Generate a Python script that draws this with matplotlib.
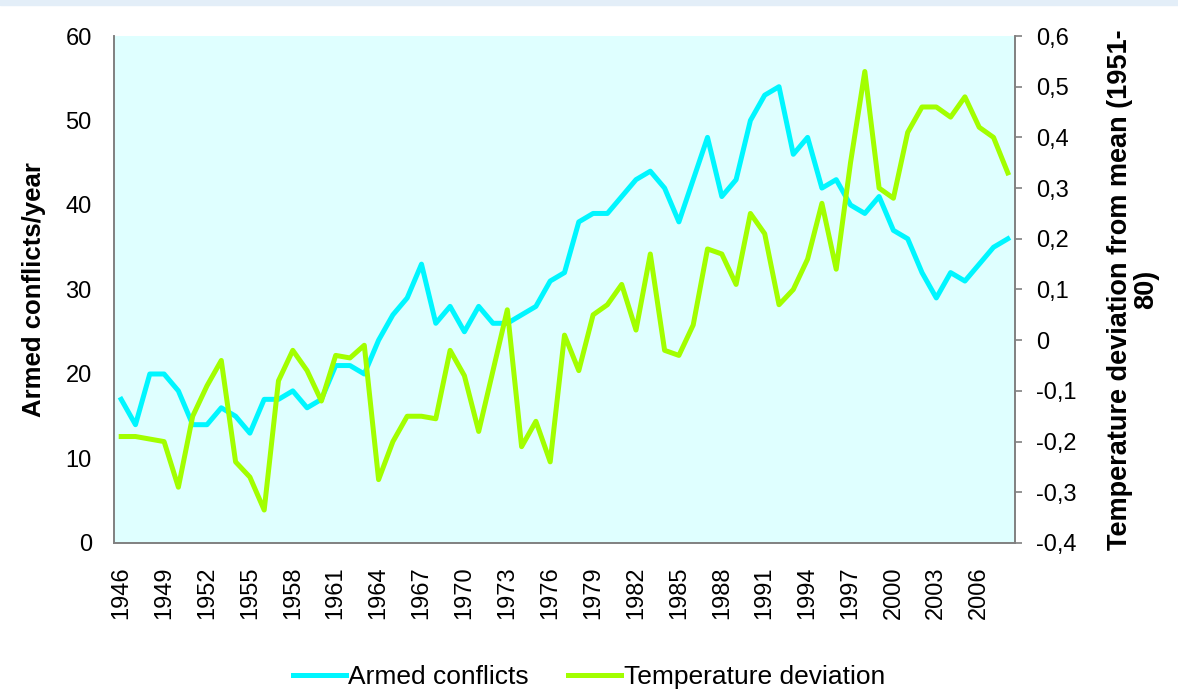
import matplotlib.pyplot as plt
from matplotlib.patches import Rectangle
from matplotlib.ticker import FuncFormatter

plt.rcParams["font.family"] = ["Liberation Sans", "DejaVu Sans"]

years = list(range(1946, 2009))
conflicts = [17, 14, 20, 20, 18, 14, 14, 16, 15, 13,
             17, 17, 18, 16, 17, 21, 21, 20, 24, 27,
             29, 33, 26, 28, 25, 28, 26, 26, 27, 28,
             31, 32, 38, 39, 39, 41, 43, 44, 42, 38,
             43, 48, 41, 43, 50, 53, 54, 46, 48, 42,
             43, 40, 39, 41, 37, 36, 32, 29, 32, 31,
             33, 35, 36]
temp_dev = [-0.19, -0.19, -0.195, -0.20, -0.29, -0.15, -0.09, -0.04, -0.24, -0.27,
            -0.335, -0.08, -0.02, -0.06, -0.12, -0.03, -0.035, -0.01, -0.275, -0.20,
            -0.15, -0.15, -0.155, -0.02, -0.07, -0.18, -0.06, 0.06, -0.21, -0.16,
            -0.24, 0.01, -0.06, 0.05, 0.07, 0.11, 0.02, 0.17, -0.02, -0.03,
            0.03, 0.18, 0.17, 0.11, 0.25, 0.21, 0.07, 0.10, 0.16, 0.27,
            0.14, 0.35, 0.53, 0.30, 0.28, 0.41, 0.46, 0.46, 0.44, 0.48,
            0.42, 0.40, 0.33]

fig = plt.figure(figsize=(11.78, 6.91), dpi=100)
fig.patches.append(Rectangle((0, 0.993), 1, 0.007, transform=fig.transFigure,
                             color="#e3eef8", zorder=0))
ax = fig.add_axes([0.0968, 0.2142, 0.7648, 0.7337])
ax.set_facecolor("#dfffff")

x = list(range(len(years)))
l1, = ax.plot(x, conflicts, color="#00f6ff", lw=3.6, solid_joinstyle="round",
              label="Armed conflicts")
ax.set_xlim(-0.5, len(years) - 0.5)
ax.set_ylim(0, 60)
ax.set_yticks(range(0, 61, 10))
ax.set_xticks(x[::3])
ax.set_xticklabels([str(y) for y in years[::3]], rotation=90)
ax.set_ylabel("Armed conflicts/year", fontsize=18.5, fontweight="bold", labelpad=14)
ax.tick_params(axis="both", labelsize=17, length=0)
ax.tick_params(axis="y", pad=16)
ax.tick_params(axis="x", pad=17)

ax2 = ax.twinx()
l2, = ax2.plot(x, temp_dev, color="#a2ff00", lw=3.6, solid_joinstyle="round",
               label="Temperature deviation")
ax2.set_ylim(-0.4, 0.6)
ax2.set_yticks([-0.4, -0.3, -0.2, -0.1, 0, 0.1, 0.2, 0.3, 0.4, 0.5, 0.6])
ax2.yaxis.set_major_formatter(FuncFormatter(
    lambda v, p: "0" if abs(v) < 1e-9 else f"{v:.1f}".replace(".", ",")))
ax2.tick_params(axis="y", labelsize=17, length=5, width=1.2, color="#808080", pad=10)
ax2.set_ylabel("Temperature deviation from mean (1951-\n80)", fontsize=19.5,
               fontweight="bold", labelpad=22, linespacing=1.0)

for a in (ax, ax2):
    a.spines["top"].set_visible(False)
    for s in ("left", "right", "bottom"):
        a.spines[s].set_color("#808080")
        a.spines[s].set_linewidth(1.2)

fig.legend([l1, l2], ["Armed conflicts", "Temperature deviation"],
           loc="center", bbox_to_anchor=(0.5, 0.02), ncol=2, frameon=False,
           fontsize=19, handlelength=2.0, handletextpad=0.1, columnspacing=1.5)

fig.savefig("out.png", dpi=100)
